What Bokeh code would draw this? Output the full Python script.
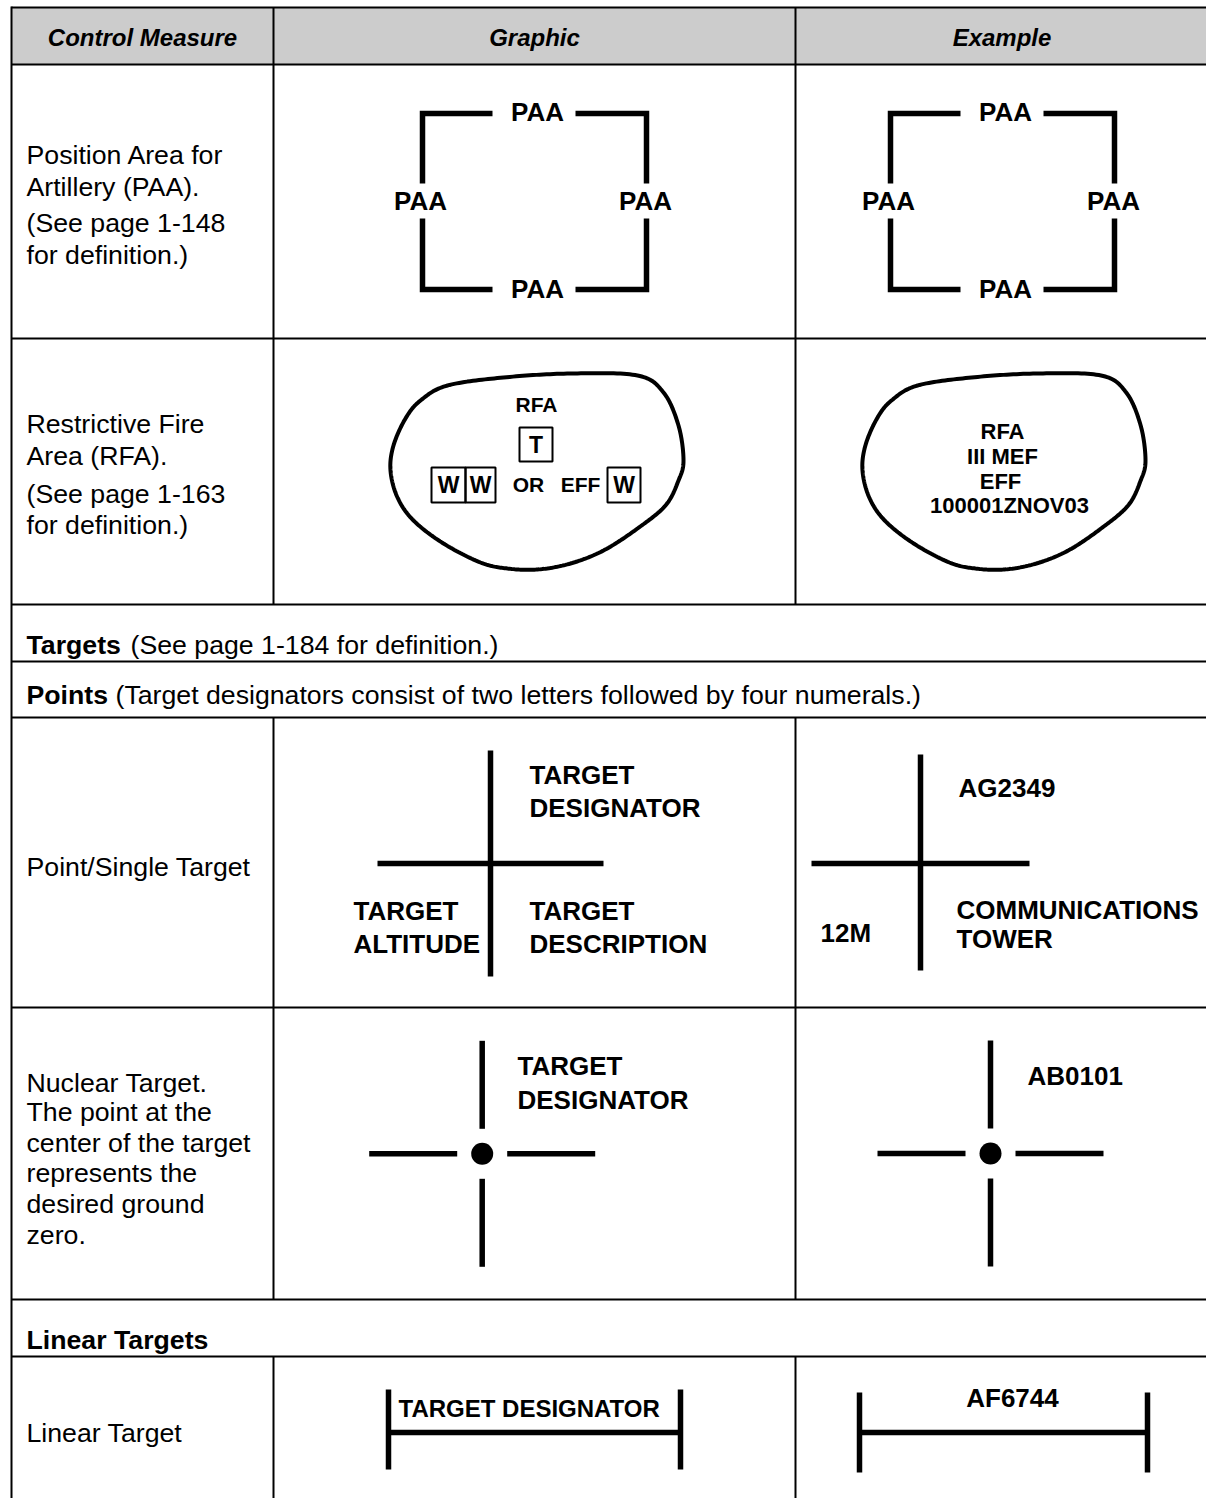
import numpy as np
from bokeh.plotting import figure
from bokeh.models import Range1d
from bokeh.core.properties import value
from bokeh.embed import file_html
from bokeh.resources import INLINE

# ---------------- table structure ----------------
col_edges = [11, 273, 795, 1208]
row_edges = [7, 64, 338, 604, 661, 717, 1007, 1299, 1356]
page_bottom = 1498
divider_spans = [(7, 604), (717, 1299), (1356, 1498)]
header_fill = "#cccccc"

header_labels = ["Control Measure", "Graphic", "Example"]
header_baseline = 37

# left-column descriptions (text, baseline as placed)
desc_text = ["Position Area for", "Artillery (PAA).", "(See page 1-148", "for definition.)",
             "Restrictive Fire", "Area (RFA).", "(See page 1-163", "for definition.)",
             "Point/Single Target",
             "Nuclear Target.", "The point at the", "center of the target", "represents the",
             "desired ground", "zero.",
             "Linear Target"]
desc_base = [154, 186, 222, 254,
             423, 455, 493, 524,
             866,
             1082, 1111, 1142, 1172, 1203, 1234,
             1432]

# full-width section rows: bold part, normal part, baseline, x of normal part
sect_bold = ["Targets", "Points", "Linear Targets"]
sect_norm = ["(See page 1-184 for definition.)",
             "(Target designators consist of two letters followed by four numerals.)", ""]
sect_base = [644, 694, 1339]
sect_norm_x = [130, 115, 0]
text_left = 26

# ---------------- PAA ----------------
paa_labels = ["PAA", "PAA", "PAA", "PAA"]
paa_box = dict(left=422, right=646, top=113, bottom=289, gap_l=492, gap_r=575, gap_t=183, gap_b=218)
paa_label_x = [537, 420, 645, 537]
paa_label_y = [111, 200, 200, 288]
paa_offsets = [0, 468]

# ---------------- RFA ----------------
rfa_outline_x = [447, 503, 570, 637, 663, 678, 683, 678, 665, 637, 603, 570, 537, 507, 480, 443, 413, 397, 390, 393, 405, 420]
rfa_outline_y = [385, 377, 373, 375, 392, 425, 460, 480, 505, 528, 550, 563, 569, 568, 562, 543, 520, 497, 470, 445, 418, 400]
rfa_example_left = 862
rfa_example_width = 283

rfa_g_text = ["RFA", "OR", "EFF"]
rfa_g_text_x = [536, 528, 580]
rfa_g_text_y = [404, 484, 484]
rfa_g_box_text = ["T", "W", "W", "W"]
rfa_g_box_x = [535.5, 448, 480, 623.7]
rfa_g_box_y = [444, 484.5, 484.5, 484.5]
rfa_g_boxes = dict(left=[519, 431, 465, 607], right=[552, 465, 495, 640],
                   top=[427, 467, 467, 467], bottom=[461, 502, 502, 502])

rfa_e_text = ["RFA", "III MEF", "EFF", "100001ZNOV03"]
rfa_e_x = [1002, 1002, 1000, 1009]
rfa_e_y = [431, 456, 481, 505]

# ---------------- point targets ----------------
pt_vx = [490, 920]
pt_vy0 = [750, 754]
pt_vy1 = [976, 970]
pt_hy = [863, 863]
pt_hx0 = [377, 811]
pt_hx1 = [603, 1029]
pt_text = ["TARGET", "DESIGNATOR", "TARGET", "ALTITUDE", "TARGET", "DESCRIPTION",
           "AG2349", "12M", "COMMUNICATIONS", "TOWER"]
pt_text_x = [529, 529, 353, 353, 529, 529, 958, 820, 956, 956]
pt_text_y = [774, 807, 910, 943, 910, 943, 787, 932, 909, 938]

# ---------------- nuclear targets ----------------
nuc_cx = [481.7, 990]
nuc_cy = [1153.3, 1153]
nuc_inner = 25
nuc_outer = 113
nuc_dot = 22
nuc_text = ["TARGET", "DESIGNATOR", "AB0101"]
nuc_text_x = [517, 517, 1027]
nuc_text_y = [1065, 1099, 1075]

# ---------------- linear targets ----------------
lin_left = [388, 859]
lin_right = [680, 1147]
lin_top = [1389, 1392]
lin_bottom = [1469, 1472]
lin_mid = [1432, 1432]
lin_text = ["TARGET DESIGNATOR", "AF6744"]
lin_text_x = [398, 1012]
lin_text_y = [1408, 1397]
lin_text_align = ["left", "center"]


def smooth_closed(xs, ys, n=20):
    P = np.column_stack([xs, ys]).astype(float)
    m = len(P)
    out = []
    for i in range(m):
        p0, p1, p2, p3 = P[(i - 1) % m], P[i], P[(i + 1) % m], P[(i + 2) % m]
        for t in np.linspace(0, 1, n, endpoint=False):
            t2, t3 = t * t, t * t * t
            out.append(0.5 * ((2 * p1) + (-p0 + p2) * t + (2 * p0 - 5 * p1 + 4 * p2 - p3) * t2
                              + (-p0 + 3 * p1 - 3 * p2 + p3) * t3))
    out.append(out[0])
    out = np.array(out)
    return out[:, 0], out[:, 1]


BODY = value("Liberation Sans")
GFONT = value("Liberation Sans")
LW = 5.5
BODY_SIZE = "26.7px"

p = figure(width=1206, height=1498, x_range=Range1d(0, 1206), y_range=Range1d(page_bottom, 0),
           output_backend="svg", toolbar_location=None, min_border=0,
           x_axis_location=None, y_axis_location=None)
p.grid.visible = False
p.outline_line_color = None
p.background_fill_color = "white"
p.border_fill_color = "white"

# header fill
p.quad(left=[col_edges[0]], right=[col_edges[-1]], top=[row_edges[0]], bottom=[row_edges[1]],
       fill_color=header_fill, line_color=None)

# table lines
hx0 = [col_edges[0]] * len(row_edges)
hx1 = [col_edges[-1]] * len(row_edges)
p.segment(x0=hx0, y0=row_edges, x1=hx1, y1=row_edges, line_color="black", line_width=2)
vx, vy0, vy1 = [col_edges[0]], [row_edges[0] - 1], [page_bottom]
for (a, b) in divider_spans:
    for c in col_edges[1:3]:
        vx.append(c); vy0.append(a); vy1.append(b)
p.segment(x0=vx, y0=vy0, x1=vx, y1=vy1, line_color="black", line_width=2)

# header labels
hcx = [(col_edges[i] + col_edges[i + 1]) / 2 for i in range(3)]
p.text(x=hcx, y=[header_baseline] * 3, text=header_labels, text_font=BODY,
       text_font_style="bold italic", text_font_size="24px", text_align="center",
       text_baseline="alphabetic", text_color="black")

# description text
p.text(x=[text_left] * len(desc_text), y=desc_base, text=desc_text, text_font=BODY,
       text_font_size=BODY_SIZE, text_align="left", text_baseline="alphabetic", text_color="black")
p.text(x=[text_left] * len(sect_bold), y=sect_base, text=sect_bold, text_font=BODY,
       text_font_style="bold", text_font_size=BODY_SIZE, text_align="left",
       text_baseline="alphabetic", text_color="black")
p.text(x=sect_norm_x[:2], y=sect_base[:2], text=sect_norm[:2], text_font=BODY,
       text_font_size=BODY_SIZE, text_align="left", text_baseline="alphabetic", text_color="black")

# PAA graphic + example
b = paa_box
for dx in paa_offsets:
    xs = [[b["gap_l"] + dx, b["left"] + dx, b["left"] + dx],
          [b["gap_r"] + dx, b["right"] + dx, b["right"] + dx],
          [b["left"] + dx, b["left"] + dx, b["gap_l"] + dx],
          [b["gap_r"] + dx, b["right"] + dx, b["right"] + dx]]
    ys = [[b["top"], b["top"], b["gap_t"]],
          [b["top"], b["top"], b["gap_t"]],
          [b["gap_b"], b["bottom"], b["bottom"]],
          [b["bottom"], b["bottom"], b["gap_b"]]]
    p.multi_line(xs=xs, ys=ys, line_color="black", line_width=LW, line_join="miter")
    p.text(x=[x + dx for x in paa_label_x], y=paa_label_y, text=paa_labels, text_font=GFONT,
           text_font_style="bold", text_font_size="26px", text_align="center",
           text_baseline="middle", text_color="black")

# RFA blobs
bx, by = smooth_closed(rfa_outline_x, rfa_outline_y)
p.line(bx, by, line_color="black", line_width=4)
ex = rfa_example_left + (bx - min(rfa_outline_x)) * rfa_example_width / (max(rfa_outline_x) - min(rfa_outline_x))
p.line(ex, by, line_color="black", line_width=4)

p.quad(fill_color=None, line_color="black", line_width=2, **rfa_g_boxes)
p.text(x=rfa_g_text_x, y=rfa_g_text_y, text=rfa_g_text, text_font=GFONT, text_font_style="bold",
       text_font_size="21px", text_align="center", text_baseline="middle", text_color="black")
p.text(x=rfa_g_box_x, y=rfa_g_box_y, text=rfa_g_box_text, text_font=GFONT, text_font_style="bold",
       text_font_size="23px", text_align="center", text_baseline="middle", text_color="black")
p.text(x=rfa_e_x, y=rfa_e_y, text=rfa_e_text, text_font=GFONT, text_font_style="bold",
       text_font_size="22px", text_align="center", text_baseline="middle", text_color="black")

# point targets
p.segment(x0=pt_vx, y0=pt_vy0, x1=pt_vx, y1=pt_vy1, line_color="black", line_width=LW)
p.segment(x0=pt_hx0, y0=pt_hy, x1=pt_hx1, y1=pt_hy, line_color="black", line_width=LW)
p.text(x=pt_text_x, y=pt_text_y, text=pt_text, text_font=GFONT, text_font_style="bold",
       text_font_size="26px", text_align="left", text_baseline="middle", text_color="black")

# nuclear targets
nx0, ny0, nx1, ny1 = [], [], [], []
for cx, cy in zip(nuc_cx, nuc_cy):
    nx0 += [cx, cx, cx - nuc_outer, cx + nuc_inner]
    nx1 += [cx, cx, cx - nuc_inner, cx + nuc_outer]
    ny0 += [cy - nuc_outer, cy + nuc_inner, cy, cy]
    ny1 += [cy - nuc_inner, cy + nuc_outer, cy, cy]
p.segment(x0=nx0, y0=ny0, x1=nx1, y1=ny1, line_color="black", line_width=LW)
p.scatter(x=nuc_cx, y=nuc_cy, size=nuc_dot, marker="circle", fill_color="black", line_color=None)
p.text(x=nuc_text_x, y=nuc_text_y, text=nuc_text, text_font=GFONT, text_font_style="bold",
       text_font_size="26px", text_align="left", text_baseline="middle", text_color="black")

# linear targets
lx0 = lin_left + lin_right + lin_left
lx1 = lin_left + lin_right + lin_right
ly0 = lin_top + lin_top + lin_mid
ly1 = lin_bottom + lin_bottom + lin_mid
p.segment(x0=lx0, y0=ly0, x1=lx1, y1=ly1, line_color="black", line_width=LW)
for i in range(2):
    p.text(x=[lin_text_x[i]], y=[lin_text_y[i]], text=[lin_text[i]], text_font=GFONT,
           text_font_style="bold", text_font_size=["24px", "26px"][i], text_align=lin_text_align[i],
           text_baseline="middle", text_color="black")

open("out.html", "w").write(file_html(p, INLINE))
